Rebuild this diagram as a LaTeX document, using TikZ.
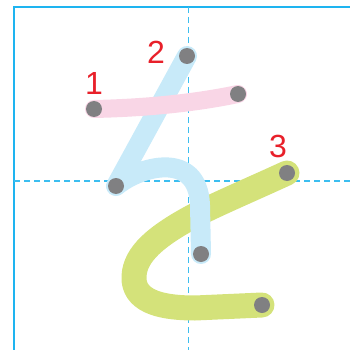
\documentclass[tikz,border=0pt]{standalone}
\usepackage{fontspec}
\setmainfont{Liberation Sans}
\usepackage{xcolor}
\usepackage{tikz}
\usetikzlibrary{arrows.meta,positioning,calc}
\definecolor{gridblue}{RGB}{30,180,240}
\definecolor{dashblue}{RGB}{60,190,240}
\definecolor{strokepink}{RGB}{249,214,230}
\definecolor{strokeblue}{RGB}{200,234,249}
\definecolor{strokegreen}{RGB}{212,226,122}
\definecolor{dotgray}{RGB}{128,128,130}
\definecolor{numred}{RGB}{232,32,42}

\begin{document}
\begin{tikzpicture}[
    x=1pt, y=-1pt,
    frame/.style={draw=gridblue, line width=2pt},
    guide/.style={draw=dashblue, line width=1.4pt, dash pattern=on 6pt off 4pt},
    stroke/.style={line cap=round, line join=round},
    dot/.style={circle, fill=dotgray, minimum size=16pt, inner sep=0pt},
    num/.style={text=numred, font=\fontsize{32}{32}\selectfont, inner sep=0pt}
]
    \useasboundingbox (0,0) rectangle (350,350);

    % grid
    \draw[frame] (350,7) -- (14,7) -- (14,350);
    \draw[guide] (188.5,7) -- (188.5,350);
    \draw[guide] (14,181) -- (350,181);

    % stroke ends
    \coordinate (s1a) at (94,109);
    \coordinate (s1b) at (238,94);
    \coordinate (s2a) at (187,56);
    \coordinate (s2b) at (116,186);
    \coordinate (s2c) at (201,254);
    \coordinate (s3a) at (287,173);
    \coordinate (s3b) at (262,305);

    % strokes
    \draw[stroke, draw=strokegreen, line width=25pt] (s3a) .. controls (250,190) and (210,207) .. (190,218)
        .. controls (150,240) and (133,258) .. (134,280)
        .. controls (136,303) and (165,308) .. (195,308) -- (s3b);
    \draw[stroke, draw=strokeblue, line width=20pt] (s2a) -- (145,133) -- (s2b)
        .. controls (140,166) and (198,150) .. (200,205) -- (s2c);
    \draw[stroke, draw=strokepink, line width=18pt] (s1a) .. controls (140,108) and (190,104) .. (s1b);

    % dots
    \foreach \p in {s1a,s1b,s2a,s2b,s2c,s3a,s3b}
        \node[dot] (d\p) at (\p) {};

    % numbers
    \node[num] (n1) at (94,83) {1};
    \node[num] (n2) at (156,52) {2};
    \node[num] (n3) at (278,146) {3};
\end{tikzpicture}
\end{document}
